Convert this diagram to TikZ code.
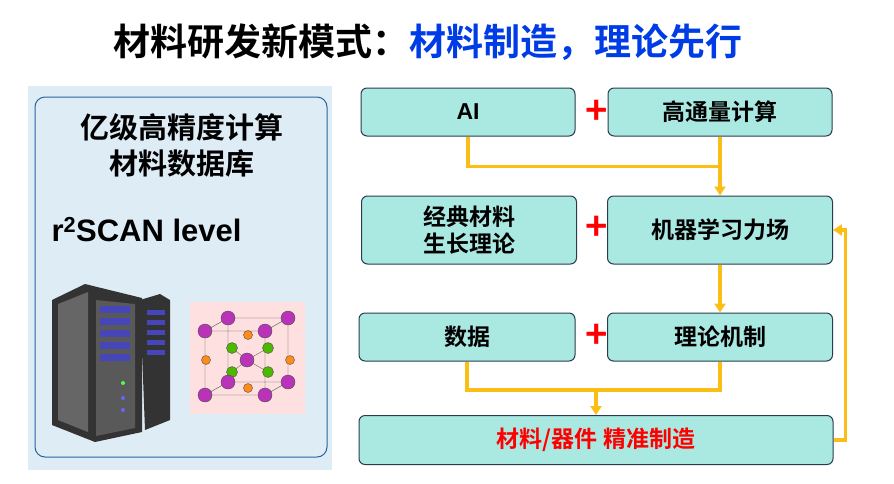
\documentclass[tikz,border=0pt]{standalone}
\usepackage{fontspec}
\setmainfont{Noto Sans CJK SC Bold}
\newfontfamily\latinfont{Liberation Sans}[BoldFont=* Bold]
\usetikzlibrary{calc,arrows.meta}
\definecolor{boxfill}{RGB}{170,232,226}
\definecolor{boxline}{RGB}{40,60,80}
\definecolor{flow}{RGB}{250,190,20}
\definecolor{panel}{RGB}{222,236,246}
\definecolor{panelline}{RGB}{40,100,160}
\definecolor{titleblue}{RGB}{0,60,230}
\tikzset{
  box/.style={draw=boxline,line width=1pt,fill=boxfill,rounded corners=6pt,font=\fontsize{23}{27}\selectfont,align=center},
  flowline/.style={flow,line width=3.5pt},
  flowarrow/.style={flowline,-{Triangle[width=11pt,length=9pt]}},
  plus/.style={red,font=\fontsize{38}{38}\selectfont},
  atomp/.style={fill=violet!70!magenta!80,draw=black!70,line width=0.4pt},
  atomg/.style={fill=green!60!black!70!yellow,draw=black!70,line width=0.4pt},
  atomo/.style={fill=orange!90,draw=black!70,line width=0.4pt}
}
\begin{document}
\begin{tikzpicture}[x=1pt,y=-1pt]
  \useasboundingbox (0,0) rectangle (894,483);
  % title
  \node[font=\fontsize{37}{40}\selectfont,anchor=west] (title) at (110,42)
    {材料研发新模式：\textcolor{titleblue}{材料制造，理论先行}};
  % left panel
  \fill[panel] (28,86) rectangle (332,470);
  \draw[panelline,line width=1pt,rounded corners=10pt] (35,97) rectangle (327,457);
  \node[font=\fontsize{29}{36}\selectfont,align=center] (db) at (182,145) {亿级高精度计算\\材料数据库};
  \node[font=\latinfont\bfseries\fontsize{31}{34}\selectfont,anchor=west] (lvl) at (48,230) {r\textsuperscript{2}SCAN level};
  % server
  \begin{scope}
    \fill[black!80] (52,300) -- (85,284) -- (142,298) -- (142,432) -- (95,442) -- (52,425) -- cycle;
    \fill[black!60] (58,304) -- (88,292) -- (88,432) -- (58,420) -- cycle;
    \fill[black!65] (96,300) -- (135,304) -- (135,428) -- (96,436) -- cycle;
    \foreach \i in {0,...,4}
      \fill[blue!45!gray] (100,{306+\i*12}) rectangle (130,{313+\i*12});
    \fill[black!80] (140,300) -- (160,294) -- (170,300) -- (170,420) -- (145,430) -- cycle;
    \foreach \i in {0,...,4}
      \fill[blue!45!gray] (147,{310+\i*10}) rectangle (165,{315+\i*10});
    \fill[green!70] (123,383) circle (2pt);
    \fill[blue!60] (123,398) circle (2pt);
    \fill[blue!60] (123,410) circle (2pt);
  \end{scope}
  % crystal
  \begin{scope}
    \fill[red!12] (190,302) rectangle (305,414);
    \coordinate (c1) at (205,331); \coordinate (c2) at (265,331);
    \coordinate (c3) at (205,395); \coordinate (c4) at (265,395);
    \coordinate (c5) at (228,318); \coordinate (c6) at (288,318);
    \coordinate (c7) at (228,382); \coordinate (c8) at (288,382);
    \draw[black!70] (c1)--(c2)--(c4)--(c3)--cycle (c5)--(c6)--(c8)--(c7)--cycle
      (c1)--(c5) (c2)--(c6) (c3)--(c7) (c4)--(c8);
    \foreach \p in {(232,348),(268,348),(232,372),(268,372)} \draw[black!60] \p -- (247,360);
    \foreach \p in {(248,335),(206,360),(290,360),(248,388)} \draw[atomo] \p circle (4.5pt);
    \foreach \p in {(232,348),(268,348),(232,372),(268,372)} \draw[atomg] \p circle (5.5pt);
    \foreach \c in {c1,c2,c3,c4,c5,c6,c7,c8} \draw[atomp] (\c) circle (7pt);
    \draw[atomp] (247,360) circle (7pt);
  \end{scope}
  % flow boxes
  \node[box,minimum width=214pt,minimum height=48pt,font=\latinfont\bfseries\fontsize{23}{27}\selectfont] (ai) at (468,112) {AI};
  \node[box,minimum width=224pt,minimum height=48pt] (htc) at (720,112) {高通量计算};
  \node[box,minimum width=215pt,minimum height=68pt] (grow) at (469,230) {经典材料\\生长理论};
  \node[box,minimum width=225pt,minimum height=68pt] (mlff) at (720,230) {机器学习力场};
  \node[box,minimum width=216pt,minimum height=48pt] (data) at (467,337) {数据};
  \node[box,minimum width=225pt,minimum height=48pt] (mech) at (720,337) {理论机制};
  \node[box,minimum width=474pt,minimum height=49pt,text=red] (make) at (596,440) {材料/器件 精准制造};
  \node[plus] (p1) at (597,112) {+};
  \node[plus] (p2) at (597,228) {+};
  \node[plus] (p3) at (597,336) {+};
  % connectors
  \coordinate (j1) at ($(htc.south)+(0,30)$);
  \coordinate (j2) at ($(make.north)+(0,-25)$);
  \coordinate (j3) at ($(make.east)+(12,0)$);
  \draw[flowline] (ai.south) |- (j1) -- (htc.south);
  \draw[flowarrow] (j1) -- (mlff.north);
  \draw[flowarrow] (mlff.south) -- (mech.north);
  \draw[flowline] (data.south) |- (j2) -| (mech.south);
  \draw[flowarrow] (j2) -- (make.north);
  \draw[flowarrow] (make.east) -- (j3) |- (mlff.east);
\end{tikzpicture}
\end{document}
